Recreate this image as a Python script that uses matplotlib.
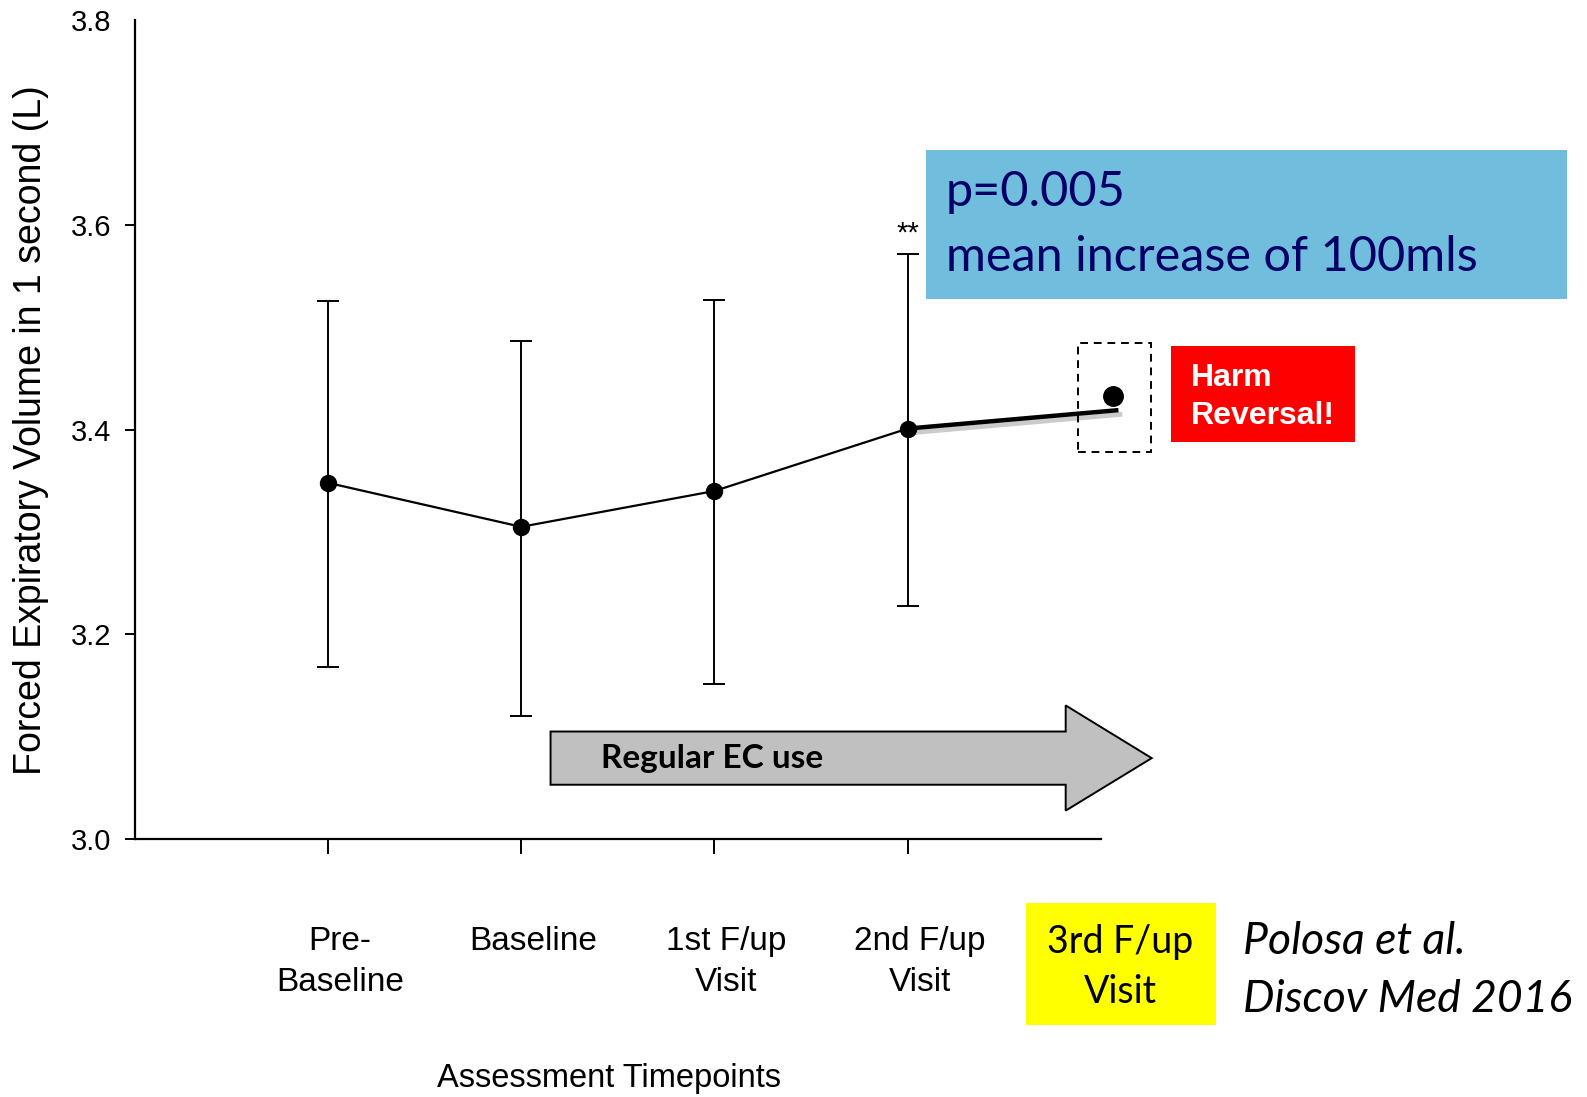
import matplotlib
matplotlib.use("Agg")
import matplotlib.pyplot as plt
from matplotlib.patches import Rectangle, Polygon
from matplotlib.transforms import ScaledTranslation
import numpy as np

# ---- data ----
categories = ["Pre-\nBaseline", "Baseline", "1st F/up\nVisit", "2nd F/up\nVisit"]
x_pos = [1, 2, 3, 4]
means = [3.348, 3.305, 3.340, 3.401]
upper = [3.526, 3.487, 3.527, 3.572]
lower = [3.168, 3.120, 3.151, 3.228]
third_x = 5.06
third_val = 3.433
trend_end_x = 5.09
trend_end_val = 3.419
yticks = [3.0, 3.2, 3.4, 3.6, 3.8]
ytick_labels = ["3.0", "3.2", "3.4", "3.6", "3.8"]

sans = "Liberation Sans"
calibri = "Lato"

fig = plt.figure(figsize=(15.87, 10.97), dpi=100)
ax = fig.add_axes([0.0848, 0.2352, 0.6090, 0.7464])
ax.set_xlim(0, 5)
ax.set_ylim(3.0, 3.8)

means_a = np.array(means)
yerr = [means_a - np.array(lower), np.array(upper) - means_a]
ax.errorbar(x_pos, means, yerr=yerr, fmt="none", ecolor="black", elinewidth=1.4,
            capsize=8, capthick=1.4, zorder=2)
ax.plot(x_pos, means, color="black", lw=1.6, zorder=3)
ax.plot(x_pos, means, "o", color="black", ms=11.5, zorder=4)
# shadowed thick segment to third follow-up
ax.plot([x_pos[-1] + 0.02, trend_end_x + 0.02], [means[-1] - 0.004, trend_end_val - 0.004],
        color="#999999", lw=3.5, alpha=0.5, solid_capstyle="butt", clip_on=False, zorder=2)
ax.plot([x_pos[-1], trend_end_x], [means[-1], trend_end_val], color="black", lw=3.2,
        solid_capstyle="butt", clip_on=False, zorder=3)
ax.plot([third_x], [third_val], "o", color="black", ms=14, clip_on=False, zorder=4)

# dashed box
ax.add_patch(Rectangle((4.88, 3.378), 0.38, 0.1065, fill=False, ls=(0, (4, 3)),
                       lw=1.4, ec="black", clip_on=False, zorder=3))

ax.text(4.0, 3.578, "**", ha="center", va="bottom", fontsize=21, family=sans)

# arrow
arrow_pts = [(2.152, 3.053), (2.152, 3.105), (4.817, 3.105), (4.817, 3.1305),
             (5.262, 3.079), (4.817, 3.0277), (4.817, 3.053)]
ax.add_patch(Polygon(arrow_pts, closed=True, fc="#C0C0C0", ec="black", lw=1.4,
                     clip_on=False, zorder=2))
ax.text(2.414, 3.079, "Regular EC use", ha="left", va="center", fontsize=24,
        fontweight="bold", family=calibri, zorder=5)

# spines and ticks
for s in ["top", "right"]:
    ax.spines[s].set_visible(False)
for s in ["left", "bottom"]:
    ax.spines[s].set_linewidth(1.6)
ax.set_yticks(yticks)
ax.set_yticklabels(ytick_labels, fontsize=21, family=sans)
ax.tick_params(axis="y", direction="out", length=7, width=1.4, pad=10)
ax.yaxis.get_ticklines()[-2].set_visible(False)
ax.set_xticks(x_pos)
ax.set_xticklabels(categories, fontsize=24, family=sans, linespacing=1.4)
ax.tick_params(axis="x", direction="out", length=11, width=1.4, pad=52)
off = ScaledTranslation(0.12, 0, fig.dpi_scale_trans)
for lab in ax.get_xticklabels():
    lab.set_transform(lab.get_transform() + off)

fig.text(31 / 1587, 1 - 430 / 1097, "Forced Expiratory Volume in 1 second (L)",
         rotation=90, ha="center", va="center", fontsize=27, family=sans)
fig.text(609 / 1587, 1 - 1078 / 1097, "Assessment Timepoints", ha="center", va="center",
         fontsize=23.5, family=sans)

# blue box
fig.patches.append(Rectangle((0.5835, 0.7274), 0.4039, 0.1359, transform=fig.transFigure,
                             fc="#70BDDD", ec="none", zorder=1))
fig.text(946 / 1587, 1 - 192 / 1097, "p=0.005", ha="left", va="center", fontsize=35,
         color="#000066", family=calibri)
fig.text(946 / 1587, 1 - 257 / 1097, "mean increase of 100mls", ha="left", va="center",
         fontsize=35, color="#000066", family=calibri)

# red box
fig.patches.append(Rectangle((0.7379, 0.5971), 0.1159, 0.0875, transform=fig.transFigure,
                             fc="#FF0000", ec="none", zorder=1))
fig.text(1191 / 1587, 1 - 378 / 1097, "Harm", ha="left", va="center", fontsize=23,
         color="white", fontweight="bold", family=sans)
fig.text(1191 / 1587, 1 - 416 / 1097, "Reversal!", ha="left", va="center", fontsize=23,
         color="white", fontweight="bold", family=sans)

# yellow box
fig.patches.append(Rectangle((0.6465, 0.0656), 0.1197, 0.1112, transform=fig.transFigure,
                             fc="#FFFF00", ec="none", zorder=1))
fig.text(1120 / 1587, 1 - 942 / 1097, "3rd F/up", ha="center", va="center", fontsize=27,
         family=calibri)
fig.text(1120 / 1587, 1 - 992 / 1097, "Visit", ha="center", va="center", fontsize=27,
         family=calibri)

fig.text(1243 / 1587, 1 - 942 / 1097, "Polosa et al.", ha="left", va="center", fontsize=32,
         style="italic", family=calibri)
fig.text(1243 / 1587, 1 - 999 / 1097, "Discov Med 2016", ha="left", va="center", fontsize=32,
         style="italic", family=calibri)

fig.savefig("out.png", dpi=100)
